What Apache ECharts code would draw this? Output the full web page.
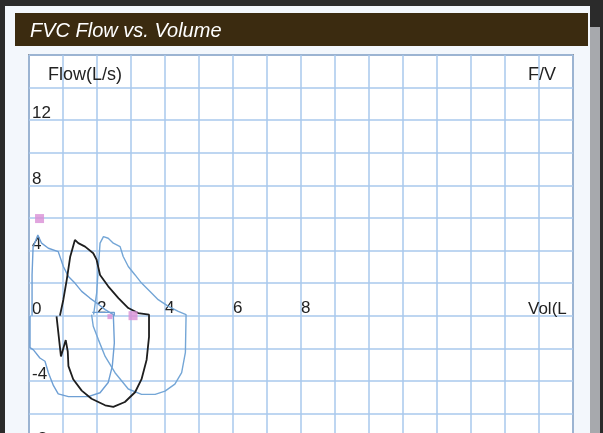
<!DOCTYPE html>
<html>
<head>
<meta charset="utf-8">
<script src="https://cdn.jsdelivr.net/npm/echarts@6/dist/echarts.min.js"></script>
<style>
  html, body { margin: 0; padding: 0; background: #2b2b2b; overflow: hidden; }
  #chart { width: 603px; height: 448px; }
</style>
</head>
<body>
<div id="chart"></div>
<script>
// 数据: [容积(L), 流量(L/s)]
var loopA = [
  [0.09, 0.0], [0.09, 2.5], [0.12, 4.2], [0.26, 4.95], [0.37, 4.45], [0.57, 4.14],
  [0.86, 3.93], [1.01, 3.02], [1.16, 2.4], [1.35, 2.0], [1.55, 1.49], [1.79, 1.08],
  [1.99, 0.78], [2.24, 0.37], [2.48, 0.06],
  [2.51, -1.67], [2.45, -3.1], [2.33, -4.1], [2.09, -4.73], [1.74, -4.97],
  [1.16, -4.97], [0.86, -4.8], [0.72, -4.3], [0.57, -3.5], [0.47, -2.8],
  [0.32, -2.6], [0.13, -2.1], [0.03, -1.96], [0.03, 0.0]
];
var loopA2 = [[2.51, 0.0], [2.51, 0.2], [1.86, 0.2]];

var loopB = [
  [0.91, 0.0], [1.01, 0.98], [1.11, 2.2], [1.21, 3.6], [1.35, 4.65], [1.45, 4.45],
  [1.65, 4.24], [1.89, 3.83], [1.99, 3.42], [2.09, 2.5], [2.33, 1.8], [2.63, 1.08],
  [2.92, 0.47], [3.21, 0.16], [3.53, 0.06],
  [3.53, -1.3], [3.46, -2.7], [3.31, -3.9], [3.12, -4.7], [2.82, -5.3], [2.48, -5.6],
  [2.24, -5.5], [1.84, -5.1], [1.55, -4.6], [1.3, -3.9], [1.16, -3.1], [1.14, -2.2],
  [1.08, -1.5], [0.94, -2.5], [0.81, -0.04]
];

var loopC = [
  [1.9, 0.06], [1.99, 1.39], [2.04, 3.0], [2.09, 4.45], [2.19, 4.85], [2.33, 4.75],
  [2.48, 4.45], [2.68, 4.24], [2.77, 3.63], [2.92, 3.02], [3.12, 2.5], [3.31, 2.0],
  [3.56, 1.49], [3.8, 0.98], [4.1, 0.57], [4.39, 0.26], [4.62, 0.06],
  [4.6, -2.26], [4.49, -3.5], [4.29, -4.2], [4.0, -4.63], [3.71, -4.83], [3.31, -4.83],
  [2.92, -4.5], [2.53, -3.5], [2.24, -2.5], [2.04, -1.47], [1.89, -0.65], [1.84, 0.06]
];

var markersBig = [[0.31, 5.96], [3.06, 0.0]];
var markersSmall = [[2.38, -0.06]];

var xTickLabels = [2, 4, 6, 8];
var yTickLabels = [-8, -4, 0, 4, 8, 12];

var FONT = "'Liberation Sans', Arial, sans-serif";
var H = 448, GRID_TOP = 55, GRID_BOTTOM = 1;
var Y_MIN = -8, Y_MAX = 16;
// x轴放在0流量处
var xOffset = -(0 - Y_MIN) / (Y_MAX - Y_MIN) * (H - GRID_TOP - GRID_BOTTOM);

var chart = echarts.init(document.getElementById('chart'));

chart.setOption({
  backgroundColor: '#2b2b2b',
  animation: false,
  graphic: [
    // 纸张
    { type: 'rect', z: -1, shape: { x: 5, y: 6, width: 585, height: 450 }, style: { fill: '#f3f7fc' } },
    // 右侧灰条
    { type: 'rect', z: -1, shape: { x: 590, y: 27, width: 10, height: 430 }, style: { fill: '#a7a9ad' } },
    // 标题栏
    { type: 'rect', z: -1, shape: { x: 15, y: 13, width: 573, height: 33 }, style: { fill: '#3b2b10' } },
    {
      type: 'text', z: 10,
      style: { text: 'FVC Flow vs. Volume', x: 30, y: 31, fill: '#ffffff',
        font: 'italic 20px ' + FONT, verticalAlign: 'middle', textVerticalAlign: 'middle' }
    },
    {
      type: 'text', z: 10,
      style: { text: 'Flow(L/s)', x: 48, y: 75, fill: '#222',
        font: '18px ' + FONT, verticalAlign: 'middle', textVerticalAlign: 'middle' }
    },
    {
      type: 'text', z: 10,
      style: { text: 'F/V', x: 528, y: 75, fill: '#222',
        font: '18px ' + FONT, verticalAlign: 'middle', textVerticalAlign: 'middle' }
    }
  ],
  grid: {
    show: true,
    left: 29,
    right: 30,
    top: GRID_TOP,
    bottom: GRID_BOTTOM,
    backgroundColor: '#ffffff',
    borderColor: '#4d4f5a',
    borderWidth: 1.5
  },
  xAxis: {
    type: 'value',
    min: 0,
    max: 16,
    interval: 1,
    position: 'bottom',
    offset: xOffset,
    name: 'Vol(L',
    nameLocation: 'end',
    nameGap: -45,
    nameTextStyle: { color: '#222', fontSize: 17, fontFamily: FONT, verticalAlign: 'bottom', align: 'left', lineHeight: 13 },
    axisLine: { show: false, onZero: false },
    axisTick: { show: false },
    axisLabel: {
      inside: true,
      margin: 1,
      align: 'left',
      verticalAlign: 'bottom',
      lineHeight: 13,
      color: '#222',
      fontSize: 17,
      fontFamily: FONT,
      formatter: function (v) { return xTickLabels.indexOf(v) >= 0 ? String(v) : ''; }
    },
    splitLine: { lineStyle: { color: '#a9c8ec', width: 1.5 } }
  },
  yAxis: {
    type: 'value',
    min: Y_MIN,
    max: Y_MAX,
    interval: 2,
    axisLine: { show: false, onZero: false },
    axisTick: { show: false },
    axisLabel: {
      inside: true,
      margin: 3,
      verticalAlign: 'bottom',
      lineHeight: 13,
      color: '#222',
      fontSize: 17,
      fontFamily: FONT,
      formatter: function (v) { return yTickLabels.indexOf(v) >= 0 ? String(v) : ''; }
    },
    splitLine: { lineStyle: { color: '#a9c8ec', width: 1.5 } }
  },
  series: [
    { type: 'line', data: loopA, showSymbol: false, lineStyle: { color: '#6e9fd4', width: 1.4 }, z: 3 },
    { type: 'line', data: loopA2, showSymbol: false, lineStyle: { color: '#6e9fd4', width: 1.4 }, z: 3 },
    { type: 'line', data: loopC, showSymbol: false, lineStyle: { color: '#74a6d6', width: 1.4 }, z: 3 },
    { type: 'line', data: loopB, showSymbol: false, lineStyle: { color: '#1e1e1e', width: 1.8 }, z: 4 },
    { type: 'scatter', data: markersBig, symbol: 'rect', symbolSize: 9, itemStyle: { color: '#d98fd6' }, z: 5 },
    { type: 'scatter', data: markersSmall, symbol: 'rect', symbolSize: 5, itemStyle: { color: '#d98fd6' }, z: 5 }
  ]
});
</script>
</body>
</html>
